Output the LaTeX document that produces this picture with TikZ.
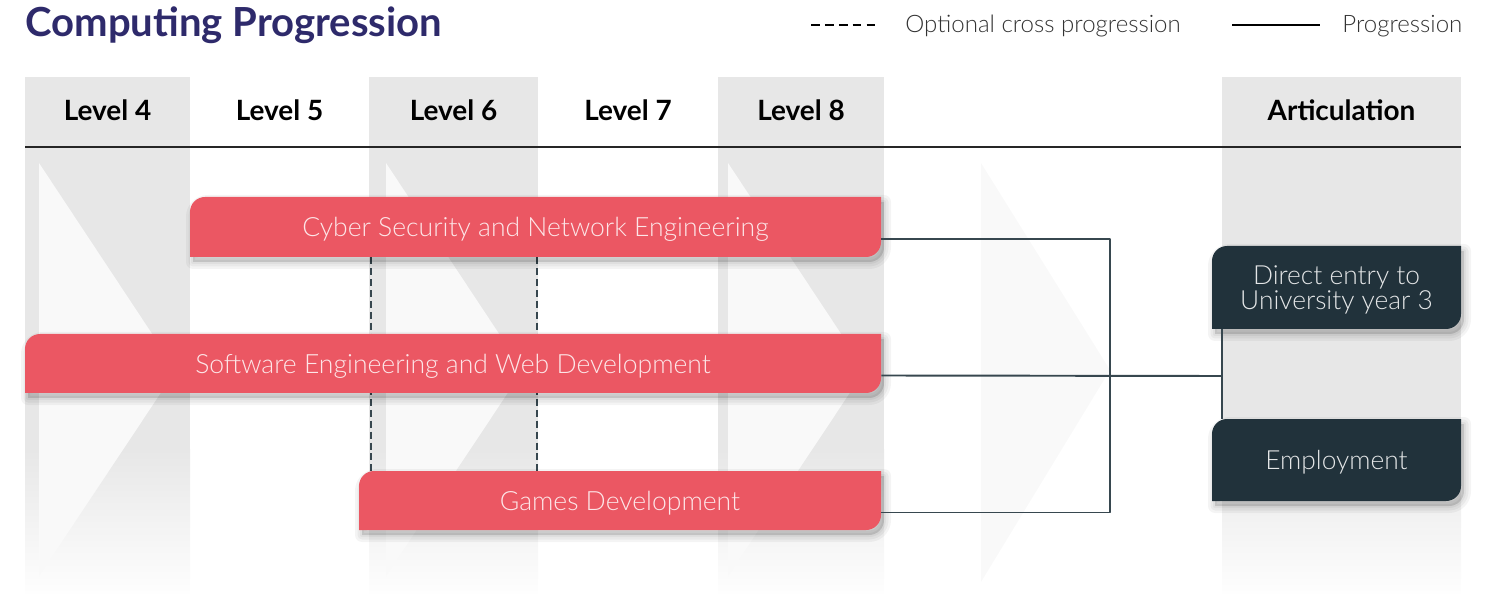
\documentclass[tikz,border=0pt]{standalone}
\usepackage{fontspec}
\setmainfont{Lato}
\newfontfamily\latolight{Lato Light}
\definecolor{colgrey}{HTML}{E7E7E7}
\definecolor{chevgrey}{HTML}{F9F9F9}
\definecolor{barred}{HTML}{EB5763}
\definecolor{bartxt}{HTML}{FDE6E8}
\definecolor{darkbox}{HTML}{21323B}
\definecolor{boxtxt}{HTML}{E4E6E7}
\definecolor{linkgrey}{HTML}{37474F}
\definecolor{titleblue}{HTML}{2E2A6B}
\pgfdeclarelayer{columns}
\pgfdeclarelayer{dashes}
\pgfsetlayers{columns,dashes,main}
\newcommand{\tabpath}[4]{(#1,#4) -- (#1,#2+15) arc[start angle=180,end angle=270,radius=15] -- (#3,#2) -- (#3,#4-15) arc[start angle=0,end angle=90,radius=15] -- cycle}
\newcommand{\tabshadow}[4]{\foreach \w in {14,9,4}
	\filldraw[black,opacity=0.045,line width=\w*0.02cm,shift={(3,5)}] \tabpath{#1}{#2}{#3}{#4};}
\begin{document}
\begin{tikzpicture}[x=0.02cm,y=-0.02cm,line join=round]
	\tikzset{
		titletext/.style={inner sep=0pt,text=titleblue,font=\bfseries\fontsize{22.8}{26}\selectfont},
		headtext/.style={font=\bfseries\fontsize{15.9}{18}\selectfont},
		legendtext/.style={inner sep=0pt,text=black!80,font=\latolight\fontsize{13.7}{16}\selectfont},
		bartext/.style={inner sep=0pt,text depth=0pt,text=bartxt,font=\latolight\fontsize{15.1}{17}\selectfont},
		boxtext/.style={inner sep=0pt,text depth=0pt,align=center,text=boxtxt,minimum width=4.98cm,font=\latolight\fontsize{15}{13.8}\selectfont},
		progline/.style={draw=linkgrey,line width=1.1pt},
		crossline/.style={draw=linkgrey,line width=1.1pt,dash pattern=on 4pt off 2.2pt},
	}
	\useasboundingbox (0,0) rectangle (1494,594);
	\begin{pgfonlayer}{columns}
		\foreach \a/\b in {25/190,369/538,718/884,1222/1461}{
			\fill[colgrey] (\a,77) rectangle (\b,450);
			\shade[top color=colgrey,bottom color=white] (\a,449.5) rectangle (\b,600);
		}
		\foreach \l/\t/\e in {39/176/576,386/523/576,728/865/576,981/1110/582}
			\fill[chevgrey] (\l,163) -- (\t,370) -- (\l,\e) -- cycle;
	\end{pgfonlayer}
	\draw[line width=0.8pt,black!85] (25,147) -- (1461,147);
	\node[titletext,anchor=base west] (title) at (25,37) {Computing Progression};
	\node[legendtext,anchor=base west] (optlabel) at (905,33) {Optional cross progression};
	\node[legendtext,anchor=base west] (proglabel) at (1342,33) {Progression};
	\draw[black,line width=1.4pt,dash pattern=on 5pt off 2.9pt] (811,25) -- (878,25);
	\draw[black,line width=1.4pt] (1232,25) -- (1320,25);
	\foreach \x/\n/\t in {107.5/lvfour/Level 4,279.5/lvfive/Level 5,453.5/lvsix/Level 6,628/lvseven/Level 7,801/lveight/Level 8,1341.5/artic/Articulation}
		\node[headtext] (\n) at (\x,110) {\t};
	\tabshadow{190}{197}{881}{257}
	\fill[barred] \tabpath{190}{197}{881}{257};
	\node[bartext,minimum width=13.82cm,minimum height=1.2cm] (cyber) at (535.5,227) {Cyber Security and Network Engineering};
	\tabshadow{25}{334}{881}{393}
	\fill[barred] \tabpath{25}{334}{881}{393};
	\node[bartext,minimum width=17.12cm,minimum height=1.18cm] (soft) at (453,363.5) {Software Engineering and Web Development};
	\tabshadow{359}{471}{881}{530}
	\fill[barred] \tabpath{359}{471}{881}{530};
	\node[bartext,minimum width=10.44cm,minimum height=1.18cm] (games) at (620,500.5) {Games Development};
	\tabshadow{1212}{246}{1461}{329}
	\fill[darkbox] \tabpath{1212}{246}{1461}{329};
	\node[boxtext,minimum height=1.66cm] (direct) at (1336.5,287.5) {Direct entry to\\University year 3};
	\tabshadow{1212}{419}{1461}{501}
	\fill[darkbox] \tabpath{1212}{419}{1461}{501};
	\node[boxtext,minimum height=1.64cm] (employ) at (1336.5,460) {Employment};
	\begin{pgfonlayer}{dashes}
		\foreach \x in {371,537}
			\draw[crossline] (cyber.south -| \x,0) -- (games.north -| \x,0);
	\end{pgfonlayer}
	\coordinate (split) at (1110,376);
	\coordinate (merge) at (1222,376);
	\draw[progline] ([yshift=-0.24cm]cyber.east) -| (split) |- ([yshift=-0.24cm]games.east);
	\draw[progline] ([yshift=-0.24cm]soft.east) -- (merge);
	\draw[progline] ([xshift=0.2cm]direct.south west) -- ([xshift=0.2cm]employ.north west);
\end{tikzpicture}
\end{document}
